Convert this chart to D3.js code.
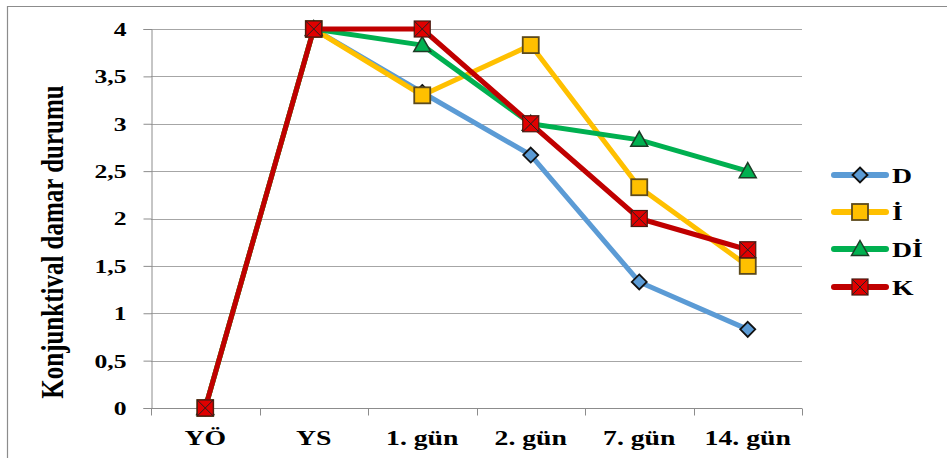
<!DOCTYPE html>
<html><head><meta charset="utf-8">
<script src="https://cdn.jsdelivr.net/npm/d3@7"></script>
<style>body{margin:0;background:#fff}svg{display:block}</style>
</head><body>
<svg id="c" width="947" height="458"></svg>
<script>
const categories = ["YÖ","YS","1. gün","2. gün","7. gün","14. gün"];
const seriesNames = ["D","İ","Dİ","K"];
const valuesD  = [0, 4, 3.33, 2.67, 1.33, 0.83];
const valuesI  = [0, 4, 3.3, 3.83, 2.33, 1.5];
const valuesDI = [0, 4, 3.83, 3.0, 2.83, 2.5];
const valuesK  = [0, 4, 4, 3, 2, 1.67];
const yTicks = [0,0.5,1,1.5,2,2.5,3,3.5,4];
const yTitle = "Konjunktival damar durumu";

const series = [
  {name:seriesNames[0], values:valuesD,  color:"#5B9BD5", marker:"diamond", fill:"#5B9BD5", stroke:"#111"},
  {name:seriesNames[1], values:valuesI,  color:"#FFC000", marker:"square",  fill:"#FFC000", stroke:"#5c4a1c"},
  {name:seriesNames[2], values:valuesDI, color:"#00B050", marker:"triangle",fill:"#00B050", stroke:"#1d3b26"},
  {name:seriesNames[3], values:valuesK,  color:"#C00000", marker:"x",       fill:"#E00000", stroke:"#4a1a10"}
];

const svg = d3.select("#c");
const font = "'Liberation Serif','Times New Roman',serif";
const SX = 1.32;

function stretch(sel, k){
  sel.each(function(){
    const w = this.getComputedTextLength();
    this.setAttribute("textLength", w*k);
    this.setAttribute("lengthAdjust","spacingAndGlyphs");
  });
}

// outer border
svg.append("path").attr("d","M7.5,458 V6.5 H947").attr("fill","none").attr("stroke","#8c8c8c").attr("stroke-width",1.2);

const x = d3.scaleBand().domain(categories).range([151,802]);
const y = d3.scaleLinear().domain([0,4]).range([408,29]);

// gridlines
svg.append("g").selectAll("line").data(yTicks.filter(d=>d>0)).join("line")
  .attr("x1",151).attr("x2",802).attr("y1",d=>Math.round(y(d))+0.5).attr("y2",d=>Math.round(y(d))+0.5)
  .attr("stroke","#a6a6a6").attr("stroke-width",1);

// y axis
const yAxis = svg.append("g").attr("transform","translate(151.5,0)")
  .call(d3.axisLeft(y).tickValues(yTicks).tickSize(8).tickPadding(17).tickFormat(d=>String(d).replace(".",",")));
yAxis.select(".domain").attr("stroke","#8c8c8c");
yAxis.selectAll(".tick line").attr("stroke","#8c8c8c");
yAxis.selectAll("text").attr("font-family",font).attr("font-weight","bold").attr("font-size",19).attr("fill","#000").attr("dy","0.34em");
stretch(yAxis.selectAll("text"), 1.35);

// x axis
const xAxisG = svg.append("g").attr("transform","translate(0,408.5)");
xAxisG.append("line").attr("x1",151).attr("x2",802).attr("stroke","#8c8c8c");
const bounds = categories.map(c=>x(c)).concat([x(categories[categories.length-1])+x.bandwidth()]);
xAxisG.selectAll("line.tk").data(bounds).join("line").attr("class","tk")
  .attr("x1",d=>Math.round(d)+0.5).attr("x2",d=>Math.round(d)+0.5).attr("y1",0).attr("y2",7).attr("stroke","#8c8c8c");
const xl = svg.append("g").selectAll("text").data(categories).join("text")
  .attr("x",d=>x(d)+x.bandwidth()/2).attr("y",445).attr("text-anchor","middle")
  .attr("font-family",font).attr("font-weight","bold").attr("font-size",21).text(d=>d);
stretch(xl, SX);

// y title
svg.append("text").attr("transform","translate(63,242) scale(1.3,1) rotate(-90)")
  .attr("text-anchor","middle").attr("font-family",font).attr("font-weight","bold").attr("font-size",25).text(yTitle);

// lines
const line = d3.line().x((d,i)=>x(categories[i])+x.bandwidth()/2).y(d=>y(d));
function drawMarker(g, s, cx, cy){
  if(s.marker==="diamond"){
    g.append("path").attr("d",`M${cx},${cy-7.5}L${cx+7.5},${cy}L${cx},${cy+7.5}L${cx-7.5},${cy}Z`)
      .attr("fill",s.fill).attr("stroke",s.stroke).attr("stroke-width",1.8);
  } else if(s.marker==="square"){
    g.append("rect").attr("x",cx-8).attr("y",cy-8).attr("width",16).attr("height",16)
      .attr("fill",s.fill).attr("stroke",s.stroke).attr("stroke-width",1.8);
  } else if(s.marker==="triangle"){
    g.append("path").attr("d",`M${cx},${cy-8.5}L${cx+8.5},${cy+6.5}L${cx-8.5},${cy+6.5}Z`)
      .attr("fill",s.fill).attr("stroke",s.stroke).attr("stroke-width",1.5);
  } else {
    g.append("rect").attr("x",cx-8).attr("y",cy-8).attr("width",16).attr("height",16)
      .attr("fill",s.fill).attr("stroke",s.stroke).attr("stroke-width",1.2);
    g.append("path").attr("d",`M${cx-8},${cy-8}L${cx+8},${cy+8}M${cx+8},${cy-8}L${cx-8},${cy+8}`)
      .attr("stroke","#222").attr("stroke-width",1);
  }
}
series.forEach(s=>{
  const g = svg.append("g");
  g.append("path").datum(s.values).attr("d",line).attr("fill","none")
    .attr("stroke",s.color).attr("stroke-width",5).attr("stroke-linejoin","round").attr("stroke-linecap","round");
  s.values.forEach((v,i)=>drawMarker(g,s,x(categories[i])+x.bandwidth()/2,y(v)));
});

// legend
const legY = [175,212,249,287];
series.forEach((s,i)=>{
  const g = svg.append("g");
  const ly = legY[i];
  g.append("line").attr("x1",834).attr("x2",886).attr("y1",ly).attr("y2",ly)
    .attr("stroke",s.color).attr("stroke-width",6).attr("stroke-linecap","round");
  drawMarker(g,s,860,ly);
  const t = g.append("text").attr("x",892).attr("y",ly+7.5).attr("font-family",font).attr("font-weight","bold")
    .attr("font-size",21).text(s.name);
  stretch(t, SX);
});
</script>
</body></html>
